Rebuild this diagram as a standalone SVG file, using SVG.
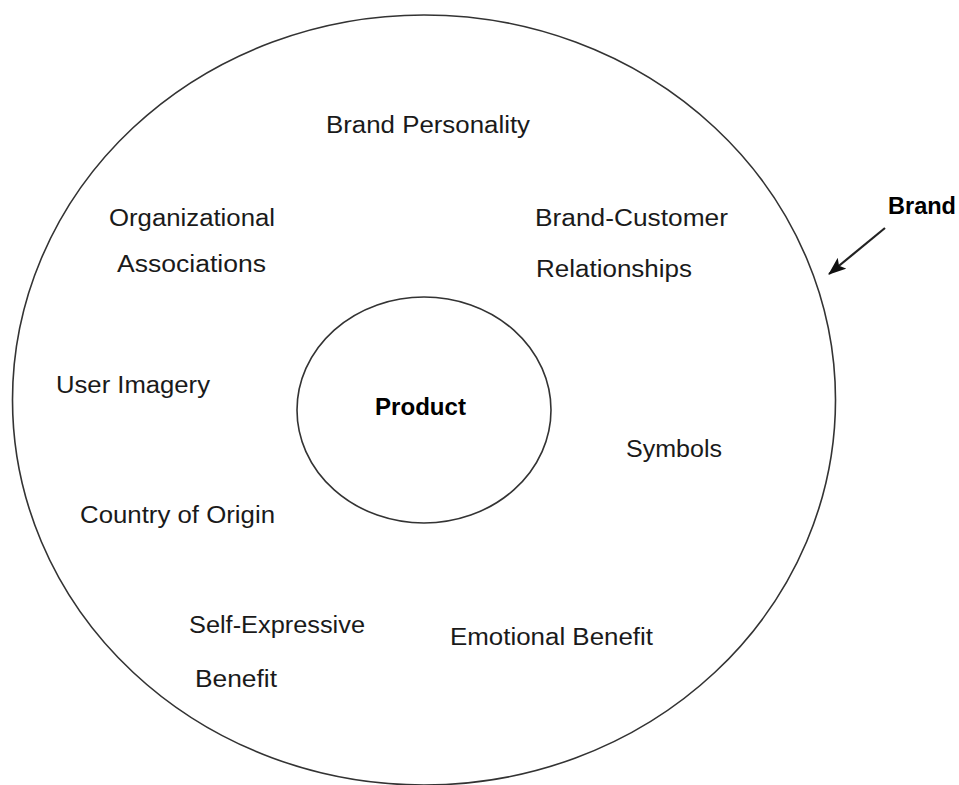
<svg xmlns="http://www.w3.org/2000/svg" width="959" height="785" viewBox="0 0 959 785">
  <style>
    .ring { fill: none; stroke: #333; stroke-width: 1.6; }
    .lbl { font-family: "Liberation Sans", Arial, sans-serif; font-size: 23.5px; fill: #1a1a1a; }
    .bold { font-family: "Liberation Sans", Arial, sans-serif; font-size: 23px; font-weight: bold; fill: #000; }
    .conn { stroke: #222; stroke-width: 2.2; fill: none; }
  </style>
  <defs>
    <marker id="head" viewBox="0 0 18 14" refX="17" refY="7" markerWidth="18" markerHeight="14" markerUnits="userSpaceOnUse" orient="auto">
      <path d="M0,0 L18,7 L0,14 L4,7 z" fill="#111"/>
    </marker>
  </defs>
  <rect width="959" height="785" fill="#fff"/>

  <!-- outer ring: the brand -->
  <g id="brand">
    <ellipse class="ring" cx="424" cy="400" rx="411.5" ry="385"/>
    <text class="bold" x="888" y="214" textLength="68" lengthAdjust="spacingAndGlyphs">Brand</text>
  </g>

  <!-- inner core: the product -->
  <g id="product">
    <ellipse class="ring" cx="424" cy="410" rx="127" ry="113"/>
    <text class="bold" x="375" y="415" textLength="91" lengthAdjust="spacingAndGlyphs">Product</text>
  </g>

  <g id="brand-personality">
    <text class="lbl" x="326" y="133" textLength="204" lengthAdjust="spacingAndGlyphs">Brand Personality</text>
  </g>
  <g id="organizational-associations">
    <text class="lbl" x="109" y="226" textLength="166" lengthAdjust="spacingAndGlyphs">Organizational</text>
    <text class="lbl" x="117" y="272" textLength="149" lengthAdjust="spacingAndGlyphs">Associations</text>
  </g>
  <g id="brand-customer-relationships">
    <text class="lbl" x="535" y="226" textLength="193" lengthAdjust="spacingAndGlyphs">Brand-Customer</text>
    <text class="lbl" x="536" y="277" textLength="156" lengthAdjust="spacingAndGlyphs">Relationships</text>
  </g>
  <g id="user-imagery">
    <text class="lbl" x="56" y="393" textLength="154" lengthAdjust="spacingAndGlyphs">User Imagery</text>
  </g>
  <g id="symbols">
    <text class="lbl" x="626" y="457" textLength="96" lengthAdjust="spacingAndGlyphs">Symbols</text>
  </g>
  <g id="country-of-origin">
    <text class="lbl" x="80" y="523" textLength="195" lengthAdjust="spacingAndGlyphs">Country of Origin</text>
  </g>
  <g id="self-expressive-benefit">
    <text class="lbl" x="189" y="633" textLength="176" lengthAdjust="spacingAndGlyphs">Self-Expressive</text>
    <text class="lbl" x="195" y="687" textLength="82" lengthAdjust="spacingAndGlyphs">Benefit</text>
  </g>
  <g id="emotional-benefit">
    <text class="lbl" x="450" y="645" textLength="203" lengthAdjust="spacingAndGlyphs">Emotional Benefit</text>
  </g>

  <!-- pointer from the Brand label to the outer ring -->
  <g id="connectors">
    <line class="conn" x1="885" y1="228" x2="829" y2="274" marker-end="url(#head)"/>
  </g>
</svg>
